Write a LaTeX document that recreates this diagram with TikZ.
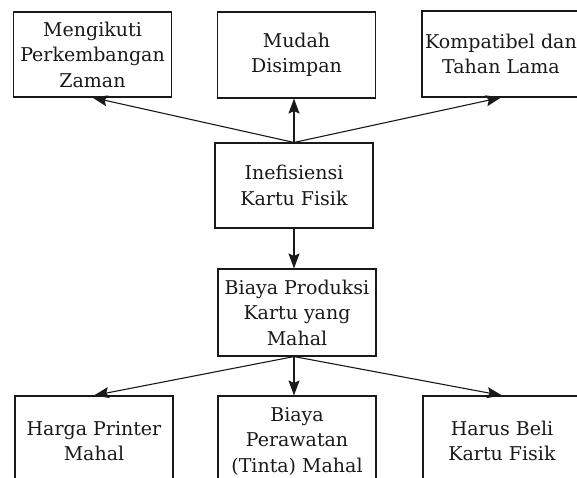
\documentclass[tikz,border=0pt]{standalone}
\usepackage{fontspec}
\setmainfont{DejaVu Serif}
\usetikzlibrary{arrows.meta}
\begin{document}
\begin{tikzpicture}[x=1pt,y=-1pt,
  box/.style={draw=black!90, line width=1.1pt, align=center, inner sep=0pt,
    minimum width=158pt, font=\fontsize{19}{25.5}\selectfont, text=black!90},
  link/.style={draw=black!90, line width=1.1pt, -{Stealth[length=15pt,width=11pt,inset=2.5pt]}}]
\useasboundingbox (0,0) rectangle (577,477);
\node[box, minimum height=85pt] (t1) at (92.5,54.5) {Mengikuti\\Perkembangan\\Zaman};
\node[box, minimum height=86pt] (t2) at (296.5,55) {Mudah\\Disimpan};
\node[box, minimum height=86pt] (t3) at (501,54) {Kompatibel dan\\Tahan Lama};
\node[box, minimum height=85pt] (ine) at (294,185.5) {Inefisiensi\\Kartu Fisik};
\node[box, minimum height=87pt] (bpk) at (297,312.5) {Biaya Produksi\\Kartu yang\\Mahal};
\node[box, minimum height=90pt] (b1) at (94,441) {Harga Printer\\Mahal};
\node[box, minimum height=90pt] (b2) at (297,441) {Biaya\\Perawatan\\(Tinta) Mahal};
\node[box, minimum height=90pt] (b3) at (502,441) {Harus Beli\\Kartu Fisik};
\coordinate (bs) at (ine.south |- bpk.south);
\draw[link] (ine.north) -- (t1.south);
\draw[link] (ine.north) -- (ine.north |- t2.south);
\draw[link] (ine.north) -- (t3.south);
\draw[link] (ine.south) -- (ine.south |- bpk.north);
\draw[link] (bs) -- (b1.north);
\draw[link] (bs) -- (bs |- b2.north);
\draw[link] (bs) -- (b3.north);
\end{tikzpicture}
\end{document}
